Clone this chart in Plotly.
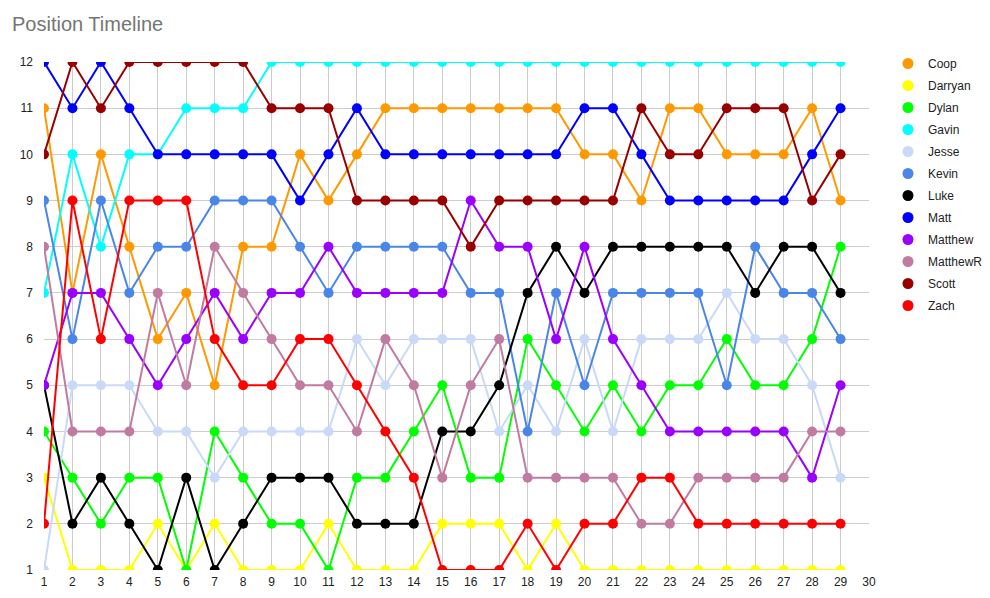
import plotly.graph_objects as go

weeks = list(range(1, 30))

Coop = [11, 7, 10, 8, 6, 7, 5, 8, 8, 10, 9, 10, 11, 11, 11, 11, 11, 11, 11, 10, 10, 9, 11, 11, 10, 10, 10, 11, 9]
Darryan = [3, 1, 1, 1, 2, 1, 2, 1, 1, 1, 2, 1, 1, 1, 2, 2, 2, 1, 2, 1, 1, 1, 1, 1, 1, 1, 1, 1, 1]
Dylan = [4, 3, 2, 3, 3, 1, 4, 3, 2, 2, 1, 3, 3, 4, 5, 3, 3, 6, 5, 4, 5, 4, 5, 5, 6, 5, 5, 6, 8]
Gavin = [7, 10, 8, 10, 10, 11, 11, 11, 12, 12, 12, 12, 12, 12, 12, 12, 12, 12, 12, 12, 12, 12, 12, 12, 12, 12, 12, 12, 12]
Jesse = [1, 5, 5, 5, 4, 4, 3, 4, 4, 4, 4, 6, 5, 6, 6, 6, 4, 5, 4, 6, 4, 6, 6, 6, 7, 6, 6, 5, 3]
Kevin = [9, 6, 9, 7, 8, 8, 9, 9, 9, 8, 7, 8, 8, 8, 8, 7, 7, 4, 7, 5, 7, 7, 7, 7, 5, 8, 7, 7, 6]
Luke = [5, 2, 3, 2, 1, 3, 1, 2, 3, 3, 3, 2, 2, 2, 4, 4, 5, 7, 8, 7, 8, 8, 8, 8, 8, 7, 8, 8, 7]
Matt = [12, 11, 12, 11, 10, 10, 10, 10, 10, 9, 10, 11, 10, 10, 10, 10, 10, 10, 10, 11, 11, 10, 9, 9, 9, 9, 9, 10, 11]
Matthew = [5, 7, 7, 6, 5, 6, 7, 6, 7, 7, 8, 7, 7, 7, 7, 9, 8, 8, 6, 8, 6, 5, 4, 4, 4, 4, 4, 3, 5]
MatthewR = [8, 4, 4, 4, 7, 5, 8, 7, 6, 5, 5, 4, 6, 5, 3, 5, 6, 3, 3, 3, 3, 2, 2, 3, 3, 3, 3, 4, 4]
Scott = [10, 12, 11, 12, 12, 12, 12, 12, 11, 11, 11, 9, 9, 9, 9, 8, 9, 9, 9, 9, 9, 11, 10, 10, 11, 11, 11, 9, 10]
Zach = [2, 9, 6, 9, 9, 9, 6, 5, 5, 6, 6, 5, 4, 3, 1, 1, 1, 2, 1, 2, 2, 3, 3, 2, 2, 2, 2, 2, 2]

names = ["Coop", "Darryan", "Dylan", "Gavin", "Jesse", "Kevin", "Luke", "Matt",
         "Matthew", "MatthewR", "Scott", "Zach"]
series = [Coop, Darryan, Dylan, Gavin, Jesse, Kevin, Luke, Matt, Matthew, MatthewR, Scott, Zach]
colors = ["#FF9900", "#FFFF00", "#00FF00", "#00FFFF", "#C9DAF8", "#4A86E8", "#000000",
          "#0000FF", "#9900FF", "#C27BA0", "#980000", "#FF0000"]

x_ticks = list(range(1, 31))
y_ticks = list(range(1, 13))

fig = go.Figure()
for name, vals, col in zip(names, series, colors):
    fig.add_trace(go.Scatter(
        x=weeks, y=vals, mode="lines+markers", name=name,
        line=dict(color=col, width=2),
        marker=dict(color=col, size=10),
        showlegend=False,
    ))
for name, col in zip(names, colors):
    fig.add_trace(go.Scatter(
        x=[None], y=[None], mode="markers", name=name,
        marker=dict(color=col, size=11), legendgroup=name,
    ))

fig.update_layout(
    width=990, height=598,
    margin=dict(l=44, r=121, t=62, b=28, autoexpand=False),
    paper_bgcolor="white", plot_bgcolor="white",
    font=dict(family="Liberation Sans, Arial, sans-serif", size=12, color="#222222"),
    title=dict(text="Position Timeline", x=12 / 990, xref="container", xanchor="left",
               y=1 - 24 / 598, yref="container", yanchor="middle",
               font=dict(size=20, color="#757575")),
    legend=dict(x=888 / 990, xref="container", xanchor="left",
                y=1 - 49 / 598, yref="container", yanchor="top",
                font=dict(size=12, color="#222222"), tracegroupgap=3,
                traceorder="grouped", bgcolor="rgba(0,0,0,0)"),
    showlegend=True,
)
fig.update_xaxes(range=[1, 30], tickmode="array", tickvals=x_ticks,
                 ticktext=[str(v) for v in x_ticks], automargin=False,
                 showgrid=True, gridcolor="#cccccc", gridwidth=1, zeroline=False,
                 showline=False, ticklabelstandoff=3,
                 tickfont=dict(size=12, color="#222222"))
fig.update_yaxes(range=[1, 12], tickmode="array", tickvals=y_ticks,
                 ticktext=[str(v) for v in y_ticks], automargin=False,
                 showgrid=True, gridcolor="#cccccc", gridwidth=1, zeroline=False,
                 showline=False, ticklabelstandoff=10,
                 tickfont=dict(size=12, color="#222222"))

fig.write_html("out.html", config={"displayModeBar": False},
               post_script="document.body.style.margin='0';")
